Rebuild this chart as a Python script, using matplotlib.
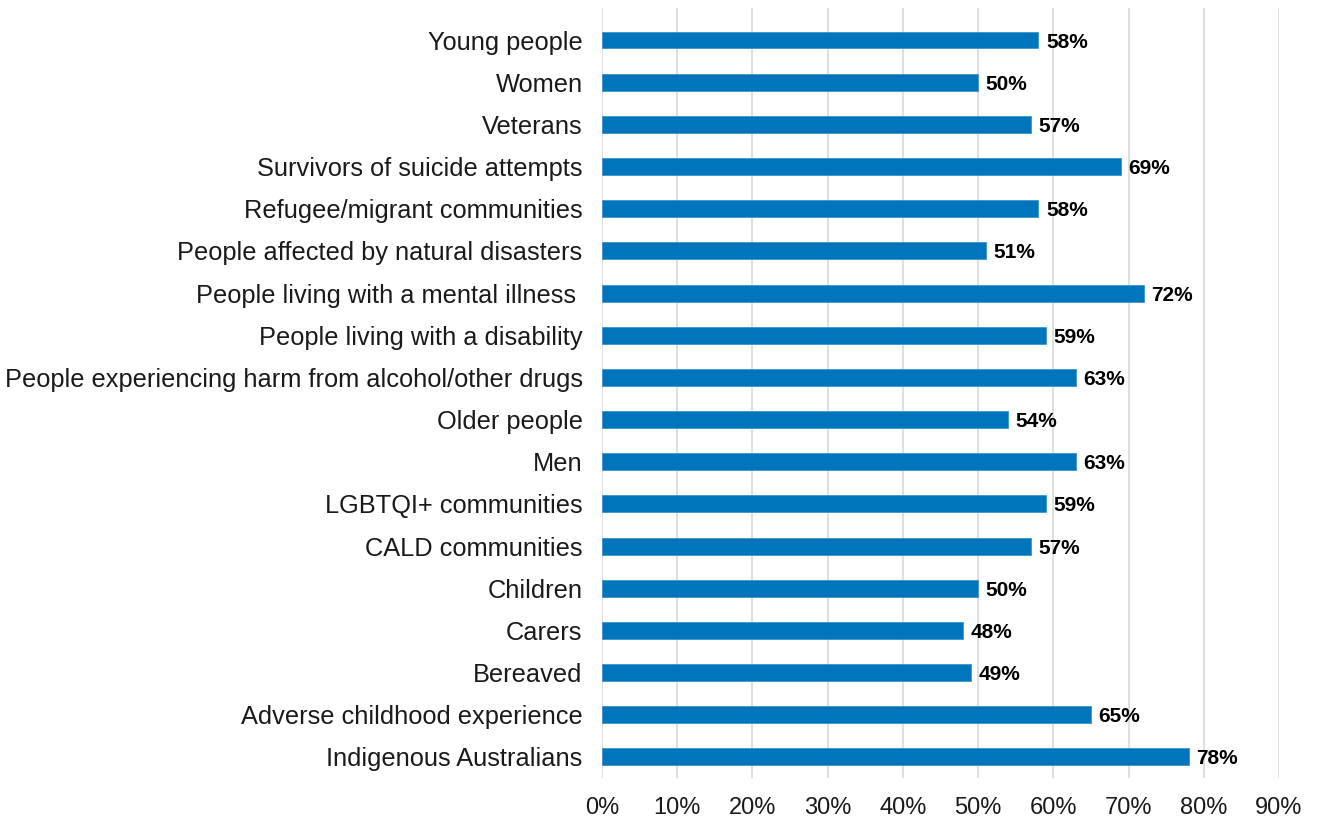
import matplotlib.pyplot as plt
from matplotlib.ticker import PercentFormatter

# Groups listed bottom to top
groups = [
    "Indigenous Australians",
    "Adverse childhood experience",
    "Bereaved",
    "Carers",
    "Children",
    "CALD communities",
    "LGBTQI+ communities",
    "Men",
    "Older people",
    "People experiencing harm from alcohol/other drugs",
    "People living with a disability",
    "People living with a mental illness ",
    "People affected by natural disasters",
    "Refugee/migrant communities",
    "Survivors of suicide attempts",
    "Veterans",
    "Women",
    "Young people",
]
pct = [78, 65, 49, 48, 50, 57, 59, 63, 54, 63, 59, 72, 51, 58, 69, 57, 50, 58]
xticks = [0, 10, 20, 30, 40, 50, 60, 70, 80, 90]

plt.rcParams['font.family'] = ['Liberation Sans', 'DejaVu Sans']

fig = plt.figure(figsize=(13.19, 8.18), dpi=100)
ax = fig.add_axes([0.4564, 0.0489, 0.5133, 0.9413])

y = list(range(len(groups)))
ax.barh(y, pct, height=0.4, color='#0075bb', edgecolor='#3d95cc',
        linewidth=0.6, zorder=3)

for yi, v in zip(y, pct):
    ax.annotate(f"{v}%", (v, yi), xytext=(5.5, -1.5), textcoords='offset points',
                ha='left', va='center', fontsize=15, fontweight='bold',
                color='black', zorder=4)

ax.set_yticks(y)
ax.set_yticklabels(groups, fontsize=18.3, color='#1a1a1a')
ax.set_xticks(xticks)
ax.xaxis.set_major_formatter(PercentFormatter(decimals=0))
ax.tick_params(axis='x', labelsize=17, labelcolor='#1a1a1a', length=0, pad=14)
ax.tick_params(axis='y', length=0, pad=14)

ax.set_xlim(0, 90)
ax.set_ylim(-0.5, 17.76)
ax.grid(axis='x', color='#d9d9d9', linewidth=1.2, zorder=0)
for s in ax.spines.values():
    s.set_visible(False)

fig.savefig('out.png', dpi=100)
